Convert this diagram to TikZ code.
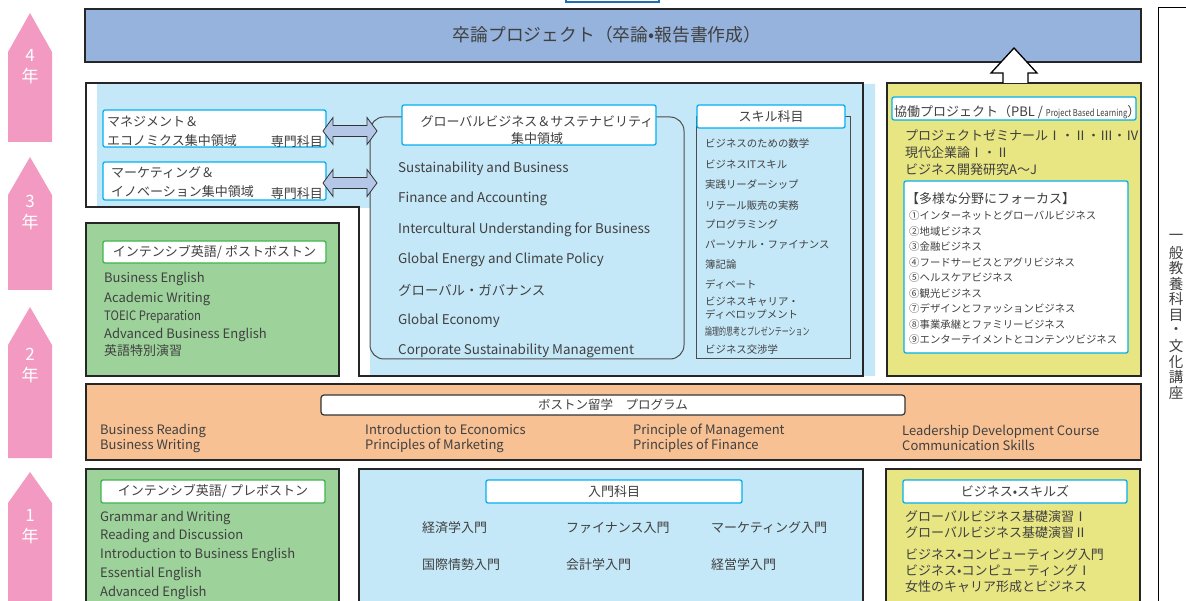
\documentclass[tikz,border=0pt]{standalone}
\usepackage{fontspec}
\setmainfont{Noto Sans CJK JP}
\usepackage{graphicx}
\usepackage{tikz}

\definecolor{pinkyr}{RGB}{242,154,193}
\definecolor{topblue}{RGB}{149,179,220}
\definecolor{lblue}{RGB}{197,232,248}
\definecolor{cyanline}{RGB}{0,176,240}
\definecolor{blueline}{RGB}{31,111,181}
\definecolor{yellowp}{RGB}{232,229,131}
\definecolor{greenp}{RGB}{157,210,155}
\definecolor{greenline}{RGB}{61,181,74}
\definecolor{orangep}{RGB}{248,193,148}
\definecolor{arrowblue}{RGB}{180,199,231}
\definecolor{txt}{RGB}{64,64,64}

\tikzset{
  panel/.style={draw=black!85, line width=1.6pt},
  hdr/.style={draw=cyanline, line width=1.3pt, fill=white, rounded corners=2pt, inner sep=0,
    text=txt, font=\fontsize{13}{15}\selectfont},
  greenhdr/.style={hdr, draw=greenline},
  item/.style={anchor=west, inner sep=0, yshift=-1.6pt, text=txt, font=\fontsize{13}{15}\selectfont},
  small/.style={item, font=\fontsize{10.4}{13}\selectfont},
  yrtext/.style={text=white, inner sep=0, font=\fontsize{17}{17}\selectfont},
}

\begin{document}
\begin{tikzpicture}[x=1pt,y=-1pt]
\useasboundingbox (0,0) rectangle (1186,601);

% year arrows
\foreach \n/\ytip/\ysh/\ybot/\ynum in {4/13/52/142/55,3/157/195/290/201,2/307/345/458/354,1/472/503/620/515}{
  \fill[pinkyr] (8,\ybot) -- (8,\ysh) -- (30,\ytip) -- (52,\ysh) -- (52,\ybot) -- cycle;
  \node[yrtext] (yr\n) at (30,\ynum) {\n};
  \node[yrtext] (nen\n) at (30,\ynum+21) {年};
}

% year 4
\draw[draw=blueline, line width=1.2pt] (566,-10) rectangle (659,2);
\draw[panel, fill=topblue] (85,9) rectangle (1141,62);
\node[text=txt, inner sep=0, font=\fontsize{17.8}{20}\selectfont] (sotsu) at (607,35) {卒論プロジェクト（卒論•報告書作成）};

% year 3
\fill[lblue] (97,84) -- (875,84) -- (875,376) -- (370,376) -- (370,208) -- (97,208) -- cycle;
\draw[panel] (86,83) -- (863,83) -- (863,376) -- (359,376) -- (359,207) -- (86,207) -- cycle;

\node[hdr, minimum width=223, minimum height=37] (mgmt) at (214.5,128.5) {};
\node[item] (mgmt1) at (107,120) {マネジメント＆};
\node[item] (mgmt2) at (107,139) {エコノミクス集中領域};
\node[item, anchor=east] (mgmt3) at (323,140) {専門科目};
\node[hdr, minimum width=223, minimum height=38] (mkt) at (214.5,181) {};
\node[item] (mkt1) at (111,171) {マーケティング＆};
\node[item] (mkt2) at (111,190) {イノベーション集中領域};
\node[item, anchor=east] (mkt3) at (323,192) {専門科目};

\draw[draw=black!70, line width=1pt, rounded corners=14pt] (370,117) rectangle (684,359);
\node[hdr, minimum width=254, minimum height=40] (glob) at (529,125) {};
\node[text=txt, inner sep=0, align=center, font=\fontsize{13}{17}\selectfont] (globt) at (537,130) {グローバルビジネス＆サステナビリティ\\集中領域};
\foreach \t [count=\i from 0] in {Sustainability and Business, Finance and Accounting, Intercultural Understanding for Business, Global Energy and Climate Policy, グローバル・ガバナンス, Global Economy, Corporate Sustainability Management}
  \node[item, font=\fontsize{13.4}{16}\selectfont] (glob\i) at (398,167+30.33*\i) {\t};

\foreach \c in {131,183}
  \draw[fill=arrowblue, draw=black!80, line width=0.8pt] (323,\c) -- (333,\c-13.5) -- (333,\c-5.5) -- (367,\c-5.5)
    -- (367,\c-13.5) -- (377,\c) -- (367,\c+13.5) -- (367,\c+5.5) -- (333,\c+5.5) -- (333,\c+13.5) -- cycle;

\draw[draw=black!70, line width=1pt] (696,117) rectangle (850,359);
\node[hdr, minimum width=148, minimum height=23] (skill) at (771,116.5) {スキル科目};
\foreach \y/\t [count=\i] in {142/ビジネスのための数学, 163/ビジネスITスキル, 183/実践リーダーシップ, 204/リテール販売の実務, 223/プログラミング, 243/パーソナル・ファイナンス, 263/簿記論, 283/ディベート, 348/ビジネス交渉学}
  \node[small] (skill\i) at (705,\y) {\t};
\node[small, align=left] (skillcar) at (705,306.5) {ビジネスキャリア・\\ディベロップメント};
\node[small] (skillron) at (705,330) {\scalebox{0.67}[1]{論理的思考とプレゼンテーション}};

\draw[panel, fill=yellowp] (887,83) rectangle (1141,376);
\draw[fill=white, line width=1.3pt] (1003,83) -- (1003,73) -- (991,73) -- (1014,48) -- (1037,73) -- (1028,73) -- (1028,83);
\node[hdr, minimum width=244, minimum height=23] (kyodo) at (1014,108.5) {};
\node[item] (kyodot) at (894,110.5) {協働プロジェクト（PBL / \scalebox{0.8}[1]{\fontsize{9.5}{9}\selectfont Project Based Learning}）};
\node[item, align=left, font=\fontsize{13}{17}\selectfont] (pbl) at (905,151) {プロジェクトゼミナールⅠ・Ⅱ・Ⅲ・Ⅳ\\現代企業論Ⅰ・Ⅱ\\ビジネス開発研究A～J};
\node[hdr, minimum width=224, minimum height=172] (focus) at (1016,267) {};
\node[item] (focust) at (906,197) {【多様な分野にフォーカス】};
\foreach \t [count=\i] in {①インターネットとグローバルビジネス, ②地域ビジネス, ③金融ビジネス, ④フードサービスとアグリビジネス, ⑤ヘルスケアビジネス, ⑥観光ビジネス, ⑦デザインとファッションビジネス, ⑧事業承継とファミリービジネス, ⑨エンターテイメントとコンテンツビジネス}
  \node[small] (focus\i) at (909,198.5+15.5*\i) {\t};

% year 2
\draw[panel, fill=greenp] (86,223) rectangle (339,376);
\node[greenhdr, minimum width=223, minimum height=22] (int2) at (214.5,252) {インテンシブ英語/ ポストボストン};
\foreach \y/\t [count=\i] in {277/Business English, 297/Academic Writing, 315/{\scalebox{0.87}[1]{TOEIC Preparation}}, 333/Advanced Business English, 349/英語特別演習}
  \node[item] (post\i) at (104,\y) {\t};

\draw[panel, fill=orangep] (86,384) rectangle (1141,460);
\node[draw=black!80, line width=1.2pt, fill=white, rounded corners=3pt, minimum width=584, minimum height=20, inner sep=0,
  text=txt, font=\fontsize{12.5}{15}\selectfont] (boston) at (613,405) {ボストン留学　プログラム};
\foreach \x/\a/\b [count=\i] in {100/Business Reading/Business Writing, 365/Introduction to Economics/Principles of Marketing, 633/Principle of Management/Principles of Finance, 902/Leadership Development Course/Communication Skills}
  \node[item, align=left] (bos\i) at (\x,436.5) {\a\\\b};

% year 1
\draw[panel, fill=greenp] (86,469) rectangle (339,620);
\node[greenhdr, minimum width=224, minimum height=23] (int1) at (213,491.5) {インテンシブ英語/ プレボストン};
\foreach \t [count=\i from 0] in {Grammar and Writing, Reading and Discussion, Introduction to Business English, Essential English, Advanced English}
  \node[item] (pre\i) at (100,516+18.75*\i) {\t};

\draw[panel, fill=lblue] (359,469) rectangle (863,620);
\node[hdr, minimum width=256, minimum height=23] (intro) at (614,491.5) {入門科目};
\foreach \x/\y/\t [count=\i] in {422/526/経済学入門, 566/526/ファイナンス入門, 711/526/マーケティング入門, 422/563/国際情勢入門, 566/563/会計学入門, 711/563/経営学入門}
  \node[item] (intro\i) at (\x,\y) {\t};

\draw[panel, fill=yellowp] (886,469) rectangle (1140,620);
\node[hdr, minimum width=224, minimum height=23] (biz) at (1015,491.5) {ビジネス•スキルズ};
\foreach \y/\t [count=\i] in {515/グローバルビジネス基礎演習Ⅰ, 531/グローバルビジネス基礎演習Ⅱ, 553/ビジネス•コンピューティング入門, 569/ビジネス•コンピューティングⅠ, 585/女性のキャリア形成とビジネス}
  \node[item, font=\fontsize{13}{15}\selectfont] (biz\i) at (905,\y) {\t};

% general education
\draw[line width=1pt] (1158,630) -- (1158,8) -- (1200,8);
\foreach \ch [count=\i from 0] in {一,般,教,養,科,目,・,文,化,講,座}
  \node[text=txt, inner sep=0, font=\fontsize{14.5}{15}\selectfont] (ippan\i) at (1176,237+15.6*\i) {\ch};

\end{tikzpicture}
\end{document}
